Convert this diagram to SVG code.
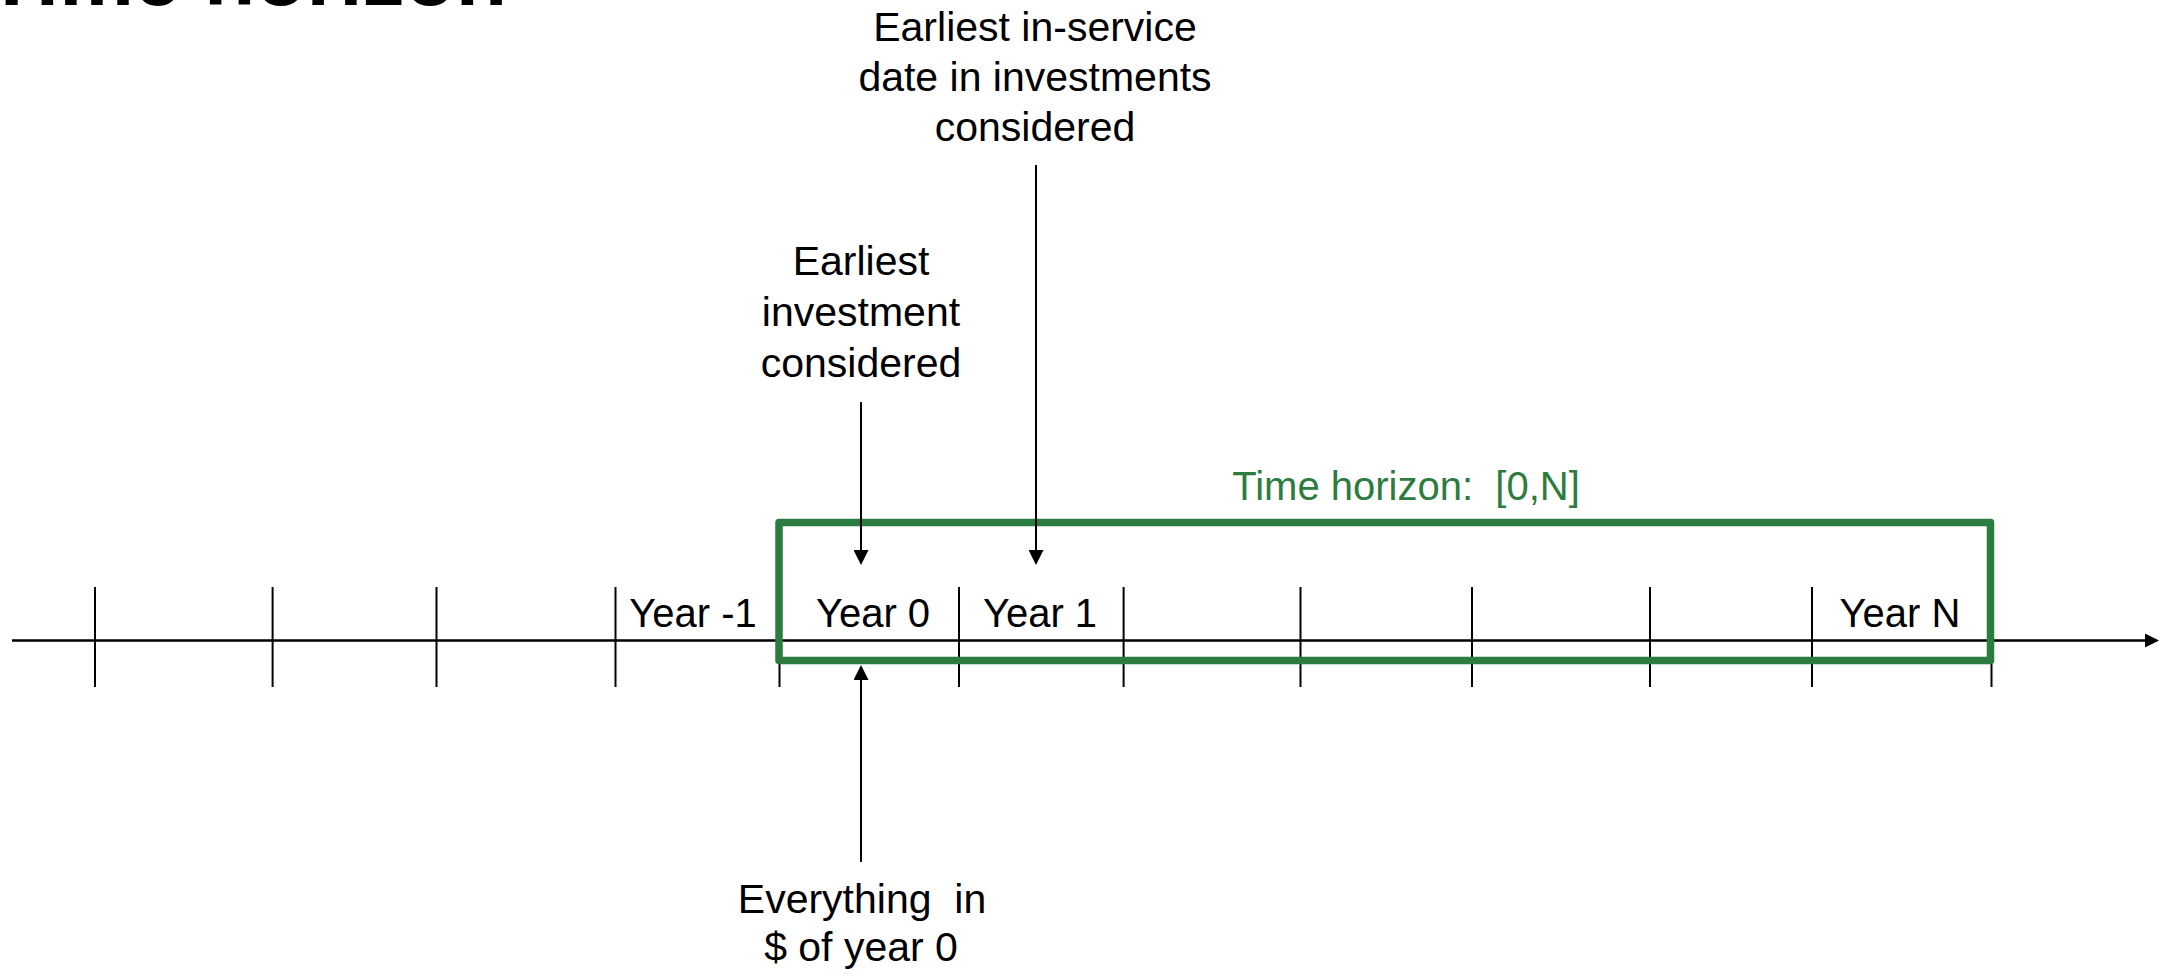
<svg xmlns="http://www.w3.org/2000/svg" width="2159" height="976" viewBox="0 0 2159 976">
<style>
text{font-family:"Liberation Sans",Arial,sans-serif;fill:#000}
.lbl{font-size:41px;text-anchor:middle}
.yr{font-size:40px;text-anchor:middle}
.tick{stroke:#000;stroke-width:2}
.conn{stroke:#000;stroke-width:2;fill:none}
.green{fill:#2b7c3e}
</style>
<defs>
<marker id="ah" markerUnits="userSpaceOnUse" markerWidth="15" markerHeight="15" refX="0" refY="7.5" orient="auto">
<path d="M0,0 L15,7.5 L0,15 z" fill="#000"/>
</marker>
<marker id="axh" markerUnits="userSpaceOnUse" markerWidth="14" markerHeight="14" refX="0" refY="7" orient="auto">
<path d="M0,0 L14,7 L0,14 z" fill="#000"/>
</marker>
</defs>
<rect width="2159" height="976" fill="#fff"/>
<g id="title"><text x="-14" y="5" font-size="84" font-weight="bold">Time horizon</text></g>
<g id="axis">
<line x1="12" y1="640.5" x2="2145" y2="640.5" stroke="#000" stroke-width="2.5" marker-end="url(#axh)"/>
<line class="tick" x1="95" y1="587" x2="95" y2="687"/>
<line class="tick" x1="272.6" y1="587" x2="272.6" y2="687"/>
<line class="tick" x1="436.5" y1="587" x2="436.5" y2="687"/>
<line class="tick" x1="615.5" y1="587" x2="615.5" y2="687"/>
<line class="tick" x1="779.5" y1="587" x2="779.5" y2="687"/>
<line class="tick" x1="959" y1="587" x2="959" y2="687"/>
<line class="tick" x1="1123.6" y1="587" x2="1123.6" y2="687"/>
<line class="tick" x1="1300.5" y1="587" x2="1300.5" y2="687"/>
<line class="tick" x1="1472" y1="587" x2="1472" y2="687"/>
<line class="tick" x1="1650" y1="587" x2="1650" y2="687"/>
<line class="tick" x1="1812" y1="587" x2="1812" y2="687"/>
<line class="tick" x1="1991.5" y1="587" x2="1991.5" y2="687"/>
</g>
<g id="year-labels">
<text class="yr" x="693" y="627">Year -1</text>
<text class="yr" x="873" y="627">Year 0</text>
<text class="yr" x="1040" y="627">Year 1</text>
<text class="yr" x="1900" y="627">Year N</text>
</g>
<g id="horizon">
<rect x="779" y="522.5" width="1211.5" height="138" fill="none" stroke="#2b7c3e" stroke-width="7.5" stroke-linejoin="round"/>
<text class="yr green" x="1406" y="500">Time horizon:&#160; [0,N]</text>
</g>
<g id="in-service-label">
<text class="lbl" x="1035" y="40.5">Earliest in-service</text>
<text class="lbl" x="1035" y="91">date in investments</text>
<text class="lbl" x="1035" y="141">considered</text>
</g>
<g id="investment-label">
<text class="lbl" x="861" y="275">Earliest</text>
<text class="lbl" x="861" y="326">investment</text>
<text class="lbl" x="861" y="377">considered</text>
</g>
<g id="dollar-label">
<text class="lbl" x="862" y="913">Everything&#160; in</text>
<text class="lbl" x="861" y="961">$ of year 0</text>
</g>
<g id="connectors">
<line class="conn" x1="861" y1="402" x2="861" y2="550" marker-end="url(#ah)"/>
<line class="conn" x1="1036" y1="165" x2="1036" y2="550" marker-end="url(#ah)"/>
<line class="conn" x1="861" y1="862" x2="861" y2="680" marker-end="url(#ah)"/>
</g>
</svg>
